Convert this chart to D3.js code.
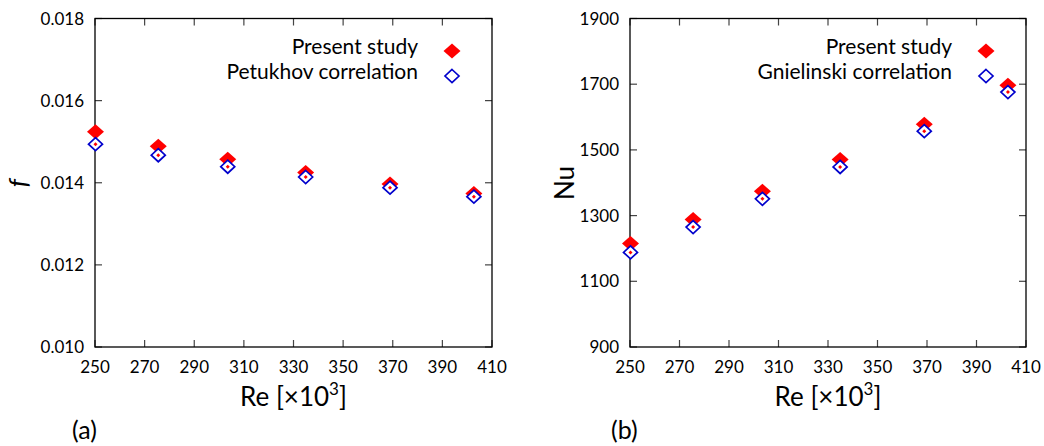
<!DOCTYPE html>
<html><head><meta charset="utf-8">
<script src="https://cdn.jsdelivr.net/npm/d3@7"></script>
<style>body{margin:0;background:#fff}svg{display:block}text{font-family:Lato,"Liberation Sans",sans-serif;fill:#000}</style>
</head><body><svg id="c" width="1044" height="446"></svg>
<script>
const re = [250.2, 275.5, 303.5, 334.9, 368.9, 402.7];
const fPresent = [0.01524, 0.01489, 0.01457, 0.01425, 0.01397, 0.01374];
const fPetukhov = [0.01494, 0.01467, 0.01439, 0.01414, 0.01388, 0.01366];
const nuPresent = [1215, 1288, 1374, 1471, 1578, 1697];
const nuGnielinski = [1188, 1265, 1351, 1448, 1557, 1676];
const xTicks = [250, 270, 290, 310, 330, 350, 370, 390, 410];
const fTicks = [0.010, 0.012, 0.014, 0.016, 0.018];
const nuTicks = [900, 1100, 1300, 1500, 1700, 1900];

const svg = d3.select("#c");

function panel(o){
  const g = svg.append("g");
  const x = d3.scaleLinear().domain([250, 410]).range([o.left, o.right]);
  const y = d3.scaleLinear().domain(o.ydom).range([347, 18.5]);
  const T = 7;
  const tg = g.append("g").attr("stroke","#444").attr("stroke-width",1.2);
  xTicks.forEach(t=>{
    tg.append("line").attr("x1",x(t)).attr("x2",x(t)).attr("y1",347).attr("y2",347-T);
    tg.append("line").attr("x1",x(t)).attr("x2",x(t)).attr("y1",18.5).attr("y2",18.5+T);
  });
  o.yticks.forEach(t=>{
    tg.append("line").attr("x1",o.left).attr("x2",o.left+T).attr("y1",y(t)).attr("y2",y(t));
    tg.append("line").attr("x1",o.right).attr("x2",o.right-T).attr("y1",y(t)).attr("y2",y(t));
  });
  g.append("rect").attr("x",o.left).attr("y",18.5).attr("width",o.right-o.left).attr("height",347-18.5)
    .attr("fill","none").attr("stroke","#000").attr("stroke-width",1.3);
  xTicks.forEach(t=>{
    g.append("text").attr("x",x(t)).attr("y",373).attr("text-anchor","middle").attr("font-size",17).text(t);
  });
  o.yticks.forEach(t=>{
    g.append("text").attr("x",o.left-11).attr("y",y(t)+6).attr("text-anchor","end").attr("font-size",17).text(o.fmt(t));
  });
  const xl = g.append("text").attr("x",(o.left+o.right)/2).attr("y",406).attr("text-anchor","middle").attr("font-size",26);
  xl.append("tspan").text("Re [×10");
  xl.append("tspan").attr("font-size",17).attr("dy",-11).text("3");
  xl.append("tspan").attr("dy",11).text("]");
  g.append("text").attr("transform",`translate(${o.ylx},183) rotate(-90)`).attr("text-anchor","middle")
    .attr("font-size",26).attr("font-style",o.yital?"italic":"normal").attr("font-family",o.yital?"'DejaVu Serif',serif":null).text(o.ylabel);
  g.append("text").attr("x",o.tagx).attr("y",439).attr("font-size",25).text(o.tag);

  const dia = (cx,cy,rx,ry)=>`M${cx},${cy-ry}L${cx+rx},${cy}L${cx},${cy+ry}L${cx-rx},${cy}Z`;
  g.selectAll(".p").data(o.a).enter().append("path")
    .attr("d",(d,i)=>dia(x(re[i]),y(d),8.5,7.5)).attr("fill","#f00");
  g.selectAll(".q").data(o.b).enter().append("path")
    .attr("d",(d,i)=>dia(x(re[i]),y(d),7,6.5)).attr("fill","#fff").attr("stroke","#00c").attr("stroke-width",1.7);
  g.selectAll(".r").data(o.b).enter().append("path")
    .attr("d",(d,i)=>dia(x(re[i]),y(d),2,2)).attr("fill","#f00");
  const mx = o.right-40;
  g.append("text").attr("x",mx-34).attr("y",54).attr("text-anchor","end").attr("font-size",21).text("Present study");
  g.append("text").attr("x",mx-34).attr("y",79).attr("text-anchor","end").attr("font-size",21).text(o.legB);
  g.append("path").attr("d",dia(mx,51,8.5,7.5)).attr("fill","#f00");
  g.append("path").attr("d",dia(mx,76,7,6.5)).attr("fill","#fff").attr("stroke","#00c").attr("stroke-width",1.7);
}

panel({left:95,right:492,ydom:[0.010,0.018],yticks:fTicks,fmt:d3.format(".3f"),a:fPresent,b:fPetukhov,
  ylabel:"f",yital:true,ylx:27,tag:"(a)",tagx:72,legB:"Petukhov correlation"});
panel({left:630,right:1026,ydom:[900,1900],yticks:nuTicks,fmt:d3.format("d"),a:nuPresent,b:nuGnielinski,
  ylabel:"Nu",yital:false,ylx:574,tag:"(b)",tagx:611,legB:"Gnielinski correlation"});
</script></body></html>
